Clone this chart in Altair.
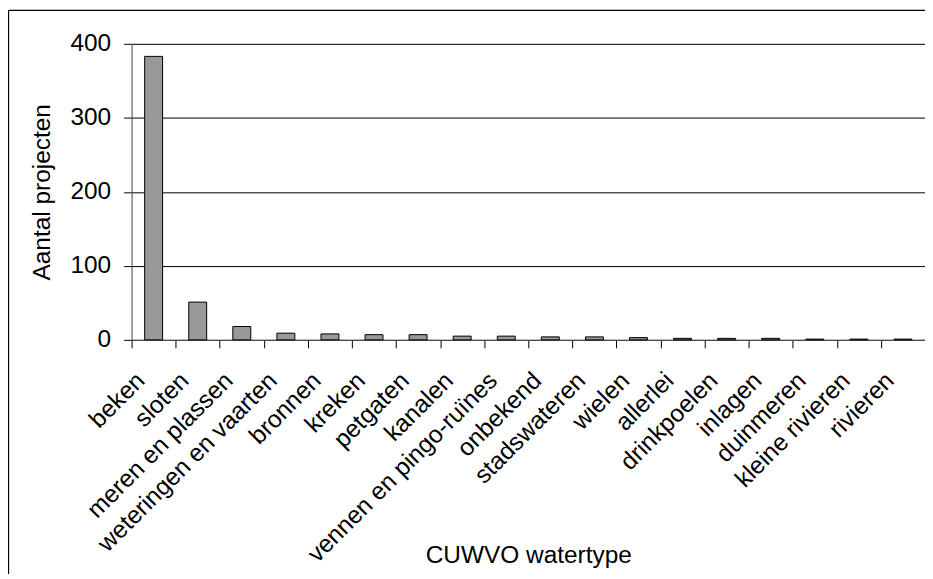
import altair as alt
import pandas as pd

categories = ["beken", "sloten", "meren en plassen", "weteringen en vaarten", "bronnen",
              "kreken", "petgaten", "kanalen", "vennen en pingo-ruïnes", "onbekend",
              "stadswateren", "wielen", "allerlei", "drinkpoelen", "inlagen", "duinmeren",
              "kleine rivieren", "rivieren"]
values = [383, 51, 18, 9, 8, 7, 7, 5, 5, 4, 4, 3, 2, 2, 2, 1, 1, 1]
y_ticks = [0, 100, 200, 300, 400]

df = pd.DataFrame({"cat": categories, "n": values})

W, H = 796, 297
FONT = "Liberation Sans"
FS = 24.5

bars = alt.Chart(df).mark_bar(width=18, fill="#999999", stroke="#000000", strokeWidth=1).encode(
    x=alt.X("cat:N", sort=None,
            scale=alt.Scale(paddingInner=0, paddingOuter=0),
            axis=alt.Axis(title="CUWVO watertype", tickBand="extent", labelAngle=-45,
                          labelAlign="right", labelBaseline="middle", labelPadding=29,
                          labelOffset=-13, labelLimit=600,
                          labelFontSize=FS, labelFont=FONT, labelColor="#000000",
                          tickSize=8, tickColor="#000000", domainColor="#555555",
                          grid=False, labelOverlap=False,
                          titleFontSize=FS, titleFont=FONT, titleFontWeight="normal",
                          titleColor="#000000", titleX=W / 2, titleY=216,
                          titleBaseline="middle", titleAlign="center")),
    y=alt.Y("n:Q", scale=alt.Scale(domain=[0, 400], nice=False),
            axis=alt.Axis(title="Aantal projecten", values=y_ticks, tickSize=8,
                          tickColor="#000000", domainColor="#555555", labelPadding=13,
                          labelFontSize=FS, labelFont=FONT, labelColor="#000000",
                          grid=True, gridColor="#000000", gridWidth=1,
                          titleFontSize=FS, titleFont=FONT, titleFontWeight="normal",
                          titleColor="#000000", titleX=-89, titleY=H / 2,
                          titleAngle=-90, titleBaseline="middle", titleAlign="center")),
)

one = pd.DataFrame({"a": [0]})
top_line = alt.Chart(one).mark_rule(stroke="#000000", strokeWidth=1.3).encode(
    x=alt.value(-123.5), x2=alt.value(W), y=alt.value(-33.5)
)
left_line = alt.Chart(one).mark_rule(stroke="#000000", strokeWidth=1.3).encode(
    x=alt.value(-123.5), y=alt.value(-33.5), y2=alt.value(H + 240)
)

chart = alt.layer(top_line, left_line, bars).properties(
    width=W, height=H,
    autosize=alt.AutoSizeParams(type="none"),
    padding={"left": 124, "top": 35, "right": 0, "bottom": 234},
).configure_view(stroke=None).configure(background="white")

chart.save("out.html", embed_options={"renderer": "svg", "actions": False})
